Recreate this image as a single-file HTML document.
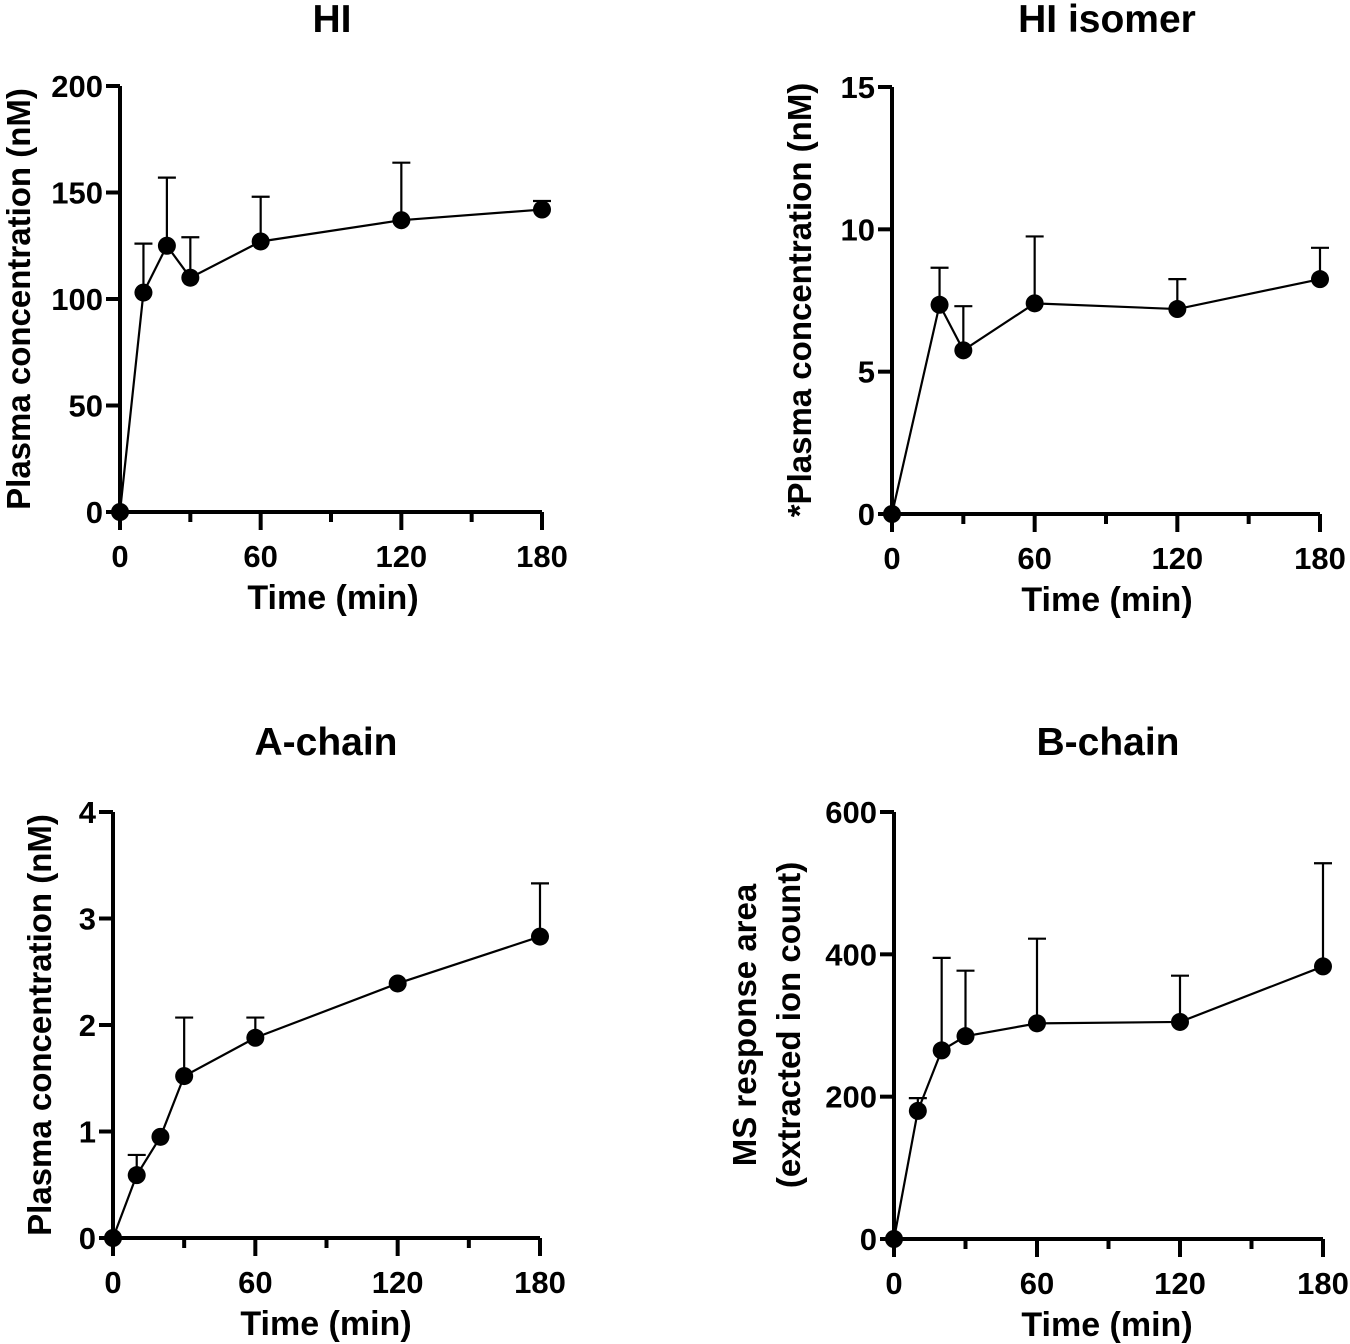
<!DOCTYPE html>
<html><head><meta charset="utf-8"><style>
body{margin:0;background:#fff;}
svg{display:block;font-family:"Liberation Sans",Arial,sans-serif;font-weight:bold;}
</style></head><body>
<svg id="fig" width="1350" height="1344" viewBox="0 0 1350 1344"></svg>
<script>
const times1=[0,10,20,30,60,120,180];
const means1=[0,103,125,110,127,137,142];
const upper1=[0,126,157,129,148,164,146];
const times2=[0,20,30,60,120,180];
const means2=[0,7.35,5.75,7.4,7.2,8.25];
const upper2=[0,8.65,7.3,9.75,8.25,9.35];
const times3=[0,10,20,30,60,120,180];
const means3=[0,0.59,0.95,1.52,1.88,2.39,2.83];
const upper3=[0,0.78,0.95,2.07,2.07,2.39,3.33];
const times4=[0,10,20,30,60,120,180];
const means4=[0,180,265,285,303,305,383];
const upper4=[0,198,395,377,422,370,528];
const xTicks=[0,60,120,180];
const yTicks1=[0,50,100,150,200];
const yTicks2=[0,5,10,15];
const yTicks3=[0,1,2,3,4];
const yTicks4=[0,200,400,600];

const NS="http://www.w3.org/2000/svg";
const svg=document.getElementById('fig');
function mk(tag,attrs,parent,text){const e=document.createElementNS(NS,tag);for(const k in attrs)e.setAttribute(k,attrs[k]);if(text!==undefined)e.textContent=text;(parent||svg).appendChild(e);return e;}

function panel(o){
  const g=mk('g',{});
  
  
  const ymax=o.yTicks[o.yTicks.length-1];
  const X=t=>o.x0+(o.x1-o.x0)*t/180;
  const Y=v=>o.y0-(o.y0-o.y1)*v/ymax;
  const t=mk('text',{x:o.tx,y:o.ty,'text-anchor':'middle','font-size':39},g,o.title);
  
  
  const ya=mk('line',{x1:o.x0,y1:o.y1,x2:o.x0,y2:o.y0,stroke:'#000','stroke-width':4},g);
  
  
  const xa=mk('line',{x1:o.x0,y1:o.y0,x2:o.x1,y2:o.y0,stroke:'#000','stroke-width':4},g);
  
  
  o.yTicks.forEach(v=>{
    mk('line',{x1:o.x0-14,y1:Y(v),x2:o.x0,y2:Y(v),stroke:'#000','stroke-width':4},g);
    const l=mk('text',{x:o.x0-17,y:Y(v)+11,'text-anchor':'end','font-size':31},g,v);
    
    
  });
  for(let m=0;m<=180;m+=30){
    const major=m%60===0;
    mk('line',{x1:X(m),y1:o.y0,x2:X(m),y2:o.y0+(major?18:10),stroke:'#000','stroke-width':4},g);
  }
  xTicks.forEach(v=>{
    const l=mk('text',{x:X(v),y:o.y0+55,'text-anchor':'middle','font-size':31},g,v);
    
    
  });
  const xt=mk('text',{x:o.xtx,y:o.y0+97,'text-anchor':'middle','font-size':34},g,'Time (min)');
  
  
  o.ylab.forEach((s,i)=>{
    const yl=mk('text',{x:0,y:0,'text-anchor':'middle','font-size':33,transform:`translate(${o.ylx[i]},${o.yly}) rotate(-90)`},g,s);
    
    
  });
  o.times.forEach((tt,i)=>{
    if(o.upper[i]>o.means[i]+1e-9){
      const eb=mk('path',{d:`M${X(tt)},${Y(o.means[i])}V${Y(o.upper[i])}M${X(tt)-9},${Y(o.upper[i])}H${X(tt)+9}`,stroke:'#000','stroke-width':2.2,fill:'none'},g);
      
      
    }
  });
  const ln=mk('polyline',{points:o.times.map((tt,i)=>X(tt)+','+Y(o.means[i])).join(' '),fill:'none',stroke:'#000','stroke-width':2.2},g);
  
  
  o.times.forEach((tt,i)=>{
    const c=mk('circle',{cx:X(tt),cy:Y(o.means[i]),r:9,fill:'#000'},g);
    
    
  });
}
panel({name:'panel-hi',title:'HI',tx:332,ty:32,x0:120,x1:542,y0:512,y1:86,yTicks:yTicks1,times:times1,means:means1,upper:upper1,ylab:['Plasma concentration (nM)'],ylx:[30],yly:299,xtx:333});
panel({name:'panel-hi-isomer',title:'HI isomer',tx:1107,ty:32,x0:892,x1:1320,y0:514,y1:87,yTicks:yTicks2,times:times2,means:means2,upper:upper2,ylab:['*Plasma concentration (nM)'],ylx:[811],yly:300,xtx:1107});
panel({name:'panel-a-chain',title:'A-chain',tx:326,ty:755,x0:113,x1:540,y0:1238,y1:812,yTicks:yTicks3,times:times3,means:means3,upper:upper3,ylab:['Plasma concentration (nM)'],ylx:[51],yly:1025,xtx:326});
panel({name:'panel-b-chain',title:'B-chain',tx:1108,ty:755,x0:894,x1:1323,y0:1239,y1:812,yTicks:yTicks4,times:times4,means:means4,upper:upper4,ylab:['MS response area','(extracted ion count)'],ylx:[756,800],yly:1025,xtx:1107});
</script>
</body></html>
